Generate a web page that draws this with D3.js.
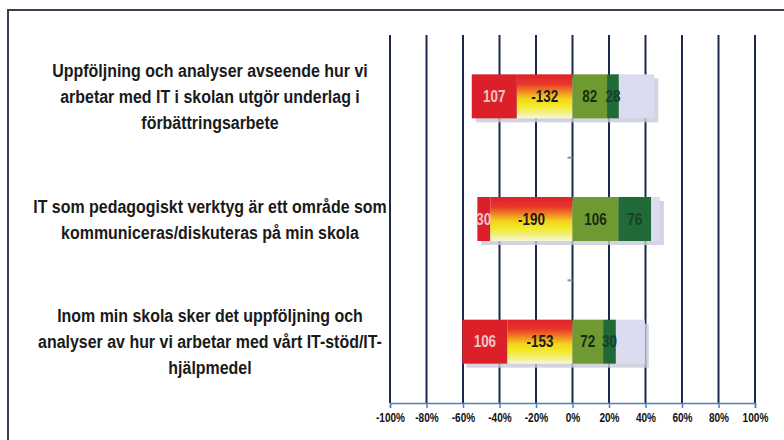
<!DOCTYPE html>
<html>
<head>
<meta charset="utf-8">
<script src="https://cdn.jsdelivr.net/npm/d3@7"></script>
<style>
  html, body { margin: 0; padding: 0; background: #fff; }
  svg { display: block; }
  .cat { font-family: 'Liberation Sans', Arial, sans-serif; font-weight: bold; fill: #1a1a1a; }
  .tick-label { font-family: 'Liberation Sans', Arial, sans-serif; font-weight: bold; fill: #111; }
  .seg-label { font-family: 'Liberation Sans', Arial, sans-serif; font-weight: bold; }
</style>
</head>
<body>
<div id="chart"></div>
<script>
// Statements (wrapped as in the picture)
const categories = [
  ["Uppföljning och analyser avseende hur vi", "arbetar med IT i skolan utgör underlag i", "förbättringsarbete"],
  ["IT som pedagogiskt verktyg är ett område som", "kommuniceras/diskuteras på min skola"],
  ["Inom min skola sker det uppföljning och", "analyser av hur vi arbetar med vårt IT-stöd/IT-", "hjälpmedel"]
]

// Answer counts per statement (partly estimated)
const disagreeFully  = [107, 30, 106]   // red
const disagreePartly = [132, 190, 153]  // red/yellow
const agreePartly    = [82, 106, 72]    // olive
const agreeFully     = [28, 76, 30]     // dark green
const dontKnow       = [84, 20, 68]     // lavender

const xTicks = [-1, -0.8, -0.6, -0.4, -0.2, 0, 0.2, 0.4, 0.6, 0.8, 1]

const W = 784, H = 440
const narrow = 0.84 // squeeze text horizontally, the original font is condensed
const svg = d3.select('#chart').append('svg').attr('width', W).attr('height', H)

// gradient for the partly-disagree segment
const defs = svg.append('defs')
const grad = defs.append('linearGradient').attr('id', 'warm')
  .attr('x1', 0).attr('y1', 0).attr('x2', 0).attr('y2', 1)
;[[0, '#e0212b'], [0.22, '#e8372a'], [0.4, '#f08a22'], [0.55, '#f4d21c'], [0.7, '#f1ea24'], [0.88, '#f3ef8a'], [1, '#f9f8dc']]
  .forEach(([o, c]) => grad.append('stop').attr('offset', o).attr('stop-color', c))

// outer frame (top and left edge visible)
svg.append('path').attr('d', 'M8,440 V10 H784')
  .attr('fill', 'none').attr('stroke', '#3a3f52').attr('stroke-width', 2)

const x = d3.scaleLinear().domain([-1, 1]).range([390, 755])
const y = d3.scaleBand().domain(d3.range(categories.length)).range([35, 403])
const barH = 44

// vertical gridlines
svg.append('g').selectAll('line').data(xTicks).join('line')
  .attr('x1', d => x(d)).attr('x2', d => x(d))
  .attr('y1', 35).attr('y2', 403)
  .attr('stroke', '#1d2850').attr('stroke-width', 2)

// small ticks on the 0 axis at band edges
svg.append('g').selectAll('line').data(d3.range(1, categories.length)).join('line')
  .attr('x1', x(0) - 5).attr('x2', x(0))
  .attr('y1', d => y(d)).attr('y2', d => y(d))
  .attr('stroke', '#8a8fa8').attr('stroke-width', 2)

// bottom axis
const fmt = d => d3.format('.0%')(d).replace('−', '-')
const axis = svg.append('g').attr('transform', 'translate(0,403)')
  .call(d3.axisBottom(x).tickValues(xTicks).tickSize(5).tickFormat(fmt))
axis.select('.domain').attr('stroke', '#4f7fbf').attr('stroke-width', 1.5)
axis.selectAll('.tick line').attr('stroke', '#4f7fbf').attr('stroke-width', 1.5)
axis.selectAll('.tick text').attr('class', 'tick-label').attr('font-size', 12)
  .attr('y', 0).attr('dy', 0)
  .attr('transform', `translate(0,19) scale(${narrow},1)`)

// build segments
const rows = categories.map((c, i) => {
  const n = disagreeFully[i] + disagreePartly[i] + agreePartly[i] + agreeFully[i] + dontKnow[i]
  const r = disagreeFully[i] / n, yv = disagreePartly[i] / n
  const o = agreePartly[i] / n, d = agreeFully[i] / n, l = dontKnow[i] / n
  return [
    { i, x0: -(r + yv), x1: -yv, fill: '#dc2029', label: String(disagreeFully[i]), color: '#f3c4c4' },
    { i, x0: -yv, x1: 0, fill: 'url(#warm)', label: '-' + disagreePartly[i], color: '#1a1a1a' },
    { i, x0: 0, x1: o, fill: '#6f9a32', label: String(agreePartly[i]), color: '#1a2a10' },
    { i, x0: o, x1: o + d, fill: '#1f6a36', label: String(agreeFully[i]), color: '#17402a' },
    { i, x0: o + d, x1: o + d + l, fill: '#dcdcf0', label: null }
  ]
})

const bars = svg.append('g').selectAll('g').data(rows).join('g')
  .attr('transform', (d, i) => `translate(0,${y(i) + y.bandwidth() / 2 - barH / 2})`)

// shadow
bars.append('rect')
  .attr('x', d => x(d[0].x0) + 4).attr('y', 4)
  .attr('width', d => x(d[4].x1) - x(d[0].x0)).attr('height', barH)
  .attr('fill', '#c8c9d8').attr('opacity', 0.8)

bars.selectAll('rect.seg').data(d => d).join('rect').attr('class', 'seg')
  .attr('x', d => x(d.x0)).attr('y', 0)
  .attr('width', d => x(d.x1) - x(d.x0)).attr('height', barH)
  .attr('fill', d => d.fill)

bars.selectAll('text').data(d => d.filter(s => s.label && x(s.x1) - x(s.x0) > 10)).join('text')
  .attr('class', 'seg-label')
  .attr('transform', d => `translate(${(x(d.x0) + x(d.x1)) / 2},${barH / 2}) scale(${narrow},1)`)
  .attr('dy', '0.35em').attr('text-anchor', 'middle')
  .attr('font-size', 16).attr('fill', d => d.color)
  .text(d => d.label)

// category labels, centred multi-line
const lineH = 26
svg.append('g').selectAll('text').data(categories).join('text')
  .attr('class', 'cat').attr('font-size', 19).attr('text-anchor', 'middle')
  .attr('transform', (d, i) => `translate(210,${y(i) + y.bandwidth() / 2 - (d.length - 1) * lineH / 2}) scale(${narrow},1)`)
  .selectAll('tspan').data(d => d).join('tspan')
  .attr('x', 0).attr('dy', (d, j) => j === 0 ? '0.35em' : lineH)
  .text(d => d)
</script>
</body>
</html>
